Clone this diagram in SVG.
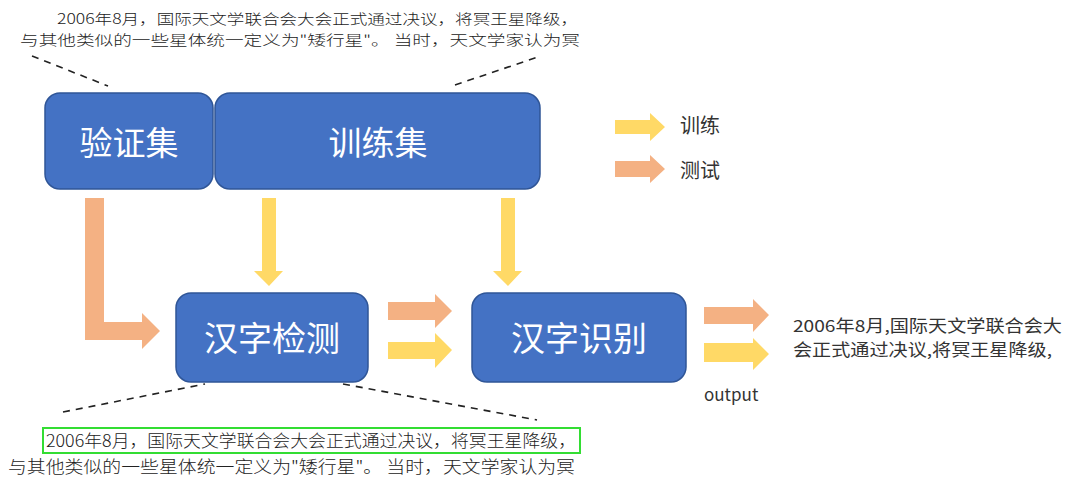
<svg xmlns="http://www.w3.org/2000/svg" width="1080" height="489" viewBox="0 0 1080 489">
<style>
.box{fill:#4472C4;stroke:#2F5597;stroke-width:1.5}
.bt{font-family:"Noto Sans CJK SC","Microsoft YaHei",sans-serif;fill:#fff;text-anchor:middle}
.yel{fill:#FFD966}
.org{fill:#F4B183}
.lbl{font-family:"Noto Sans CJK SC",sans-serif;fill:#333}
.hw{font-family:"Noto Sans CJK SC",sans-serif;font-weight:300;fill:#222}
.dash{stroke:#222;stroke-width:1.6;stroke-dasharray:7 6;fill:none}
</style>
<rect width="1080" height="489" fill="#fff"/>
<g id="note-top">
<text class="hw" x="57" y="24" font-size="14" textLength="521" lengthAdjust="spacingAndGlyphs">2006年8月，国际天文学联合会大会正式通过决议，将冥王星降级，</text>
<text class="hw" x="20" y="45" font-size="14" textLength="560" lengthAdjust="spacingAndGlyphs">与其他类似的一些星体统一定义为"矮行星"。  当时，天文学家认为冥</text>
</g>
<g id="note-bottom">
<rect x="43" y="428" width="537" height="25" fill="none" stroke="#33DD33" stroke-width="2"/>
<text class="hw" x="46" y="447" font-size="17" textLength="530" lengthAdjust="spacingAndGlyphs">2006年8月，国际天文学联合会大会正式通过决议，将冥王星降级，</text>
<text class="hw" x="8" y="473" font-size="17" textLength="567" lengthAdjust="spacingAndGlyphs">与其他类似的一些星体统一定义为"矮行星"。  当时，天文学家认为冥</text>
</g>
<g id="connectors">
<line class="dash" x1="32" y1="56" x2="108" y2="86"/>
<line class="dash" x1="455" y1="85" x2="538" y2="57"/>
<line class="dash" x1="63" y1="412" x2="205" y2="384"/>
<line class="dash" x1="343" y1="384" x2="537" y2="420"/>
<polygon class="org" points="85,198 104,198 104,322 142,322 142,313 160,331 142,349 142,340 85,340"/>
<polygon class="yel" points="262,198 276,198 276,271 283,271 269,286 254,271 262,271"/>
<polygon class="yel" points="501,198 515,198 515,271 522,271 508,286 493,271 501,271"/>
<polygon class="org" points="388,302 435,302 435,294 452,311 435,328 435,320 388,320"/>
<polygon class="yel" points="388,342 435,342 435,333 452,350 435,368 435,359 388,359"/>
<polygon class="org" points="704,307 753,307 753,299 769,315 753,332 753,324 704,324"/>
<polygon class="yel" points="704,343 753,343 753,338 769,354 753,370 753,362 704,362"/>
</g>
<g id="legend">
<polygon class="yel" points="615,120 650,120 650,113 665,127 650,141 650,134 615,134"/>
<polygon class="org" points="615,161 650,161 650,155 665,169 650,183 650,177 615,177"/>
<text class="lbl" x="680" y="133" font-size="20">训练</text>
<text class="lbl" x="680" y="178" font-size="20">测试</text>
</g>
<g id="node-val">
<rect class="box" x="45" y="93" width="168" height="96" rx="15"/>
<text class="bt" x="129" y="155" font-size="33">验证集</text>
</g>
<g id="node-train">
<rect class="box" x="215" y="93" width="325" height="96" rx="15"/>
<text class="bt" x="378" y="155" font-size="33">训练集</text>
</g>
<g id="node-detect">
<rect class="box" x="176" y="293" width="192" height="89" rx="15"/>
<text class="bt" x="272" y="351" font-size="34">汉字检测</text>
</g>
<g id="node-recog">
<rect class="box" x="472" y="293" width="214" height="89" rx="15"/>
<text class="bt" x="579" y="351" font-size="34">汉字识别</text>
</g>
<g id="output">
<text class="lbl" x="793" y="332" font-size="16.5" textLength="269" lengthAdjust="spacingAndGlyphs">2006年8月,国际天文学联合会大</text>
<text class="lbl" x="793" y="356" font-size="16.5" textLength="259" lengthAdjust="spacingAndGlyphs">会正式通过决议,将冥王星降级,</text>
<text class="lbl" x="704" y="401" font-size="17">output</text>
</g>
</svg>
